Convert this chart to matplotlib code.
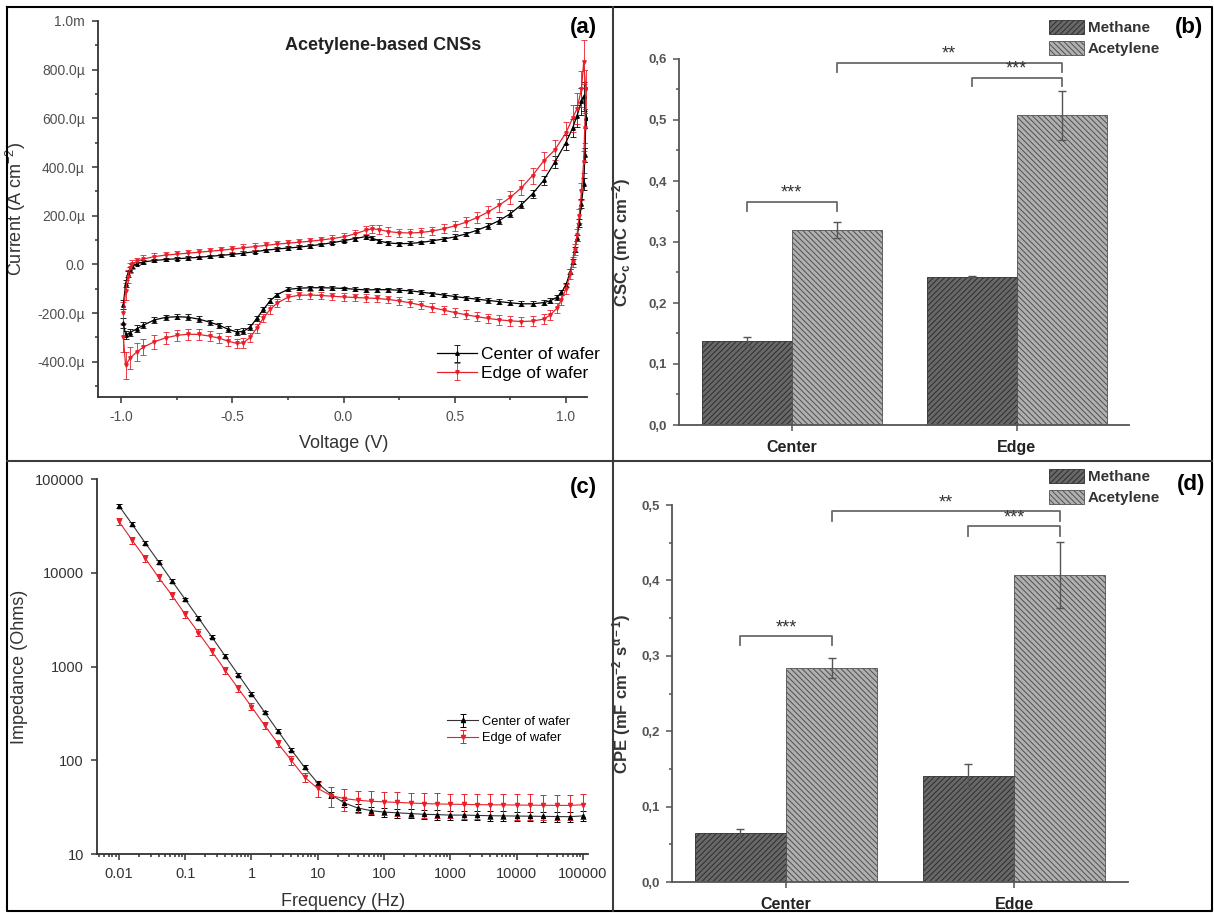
#Four panel figure: CV curves, CSC bars, impedance spectra and CPE bars
import numpy as np
import matplotlib
matplotlib.use('Agg')
import matplotlib.pyplot as plt
from matplotlib.lines import Line2D
from matplotlib.ticker import MultipleLocator, FuncFormatter, NullLocator, FixedLocator

plt.rcParams['font.family'] = ['Liberation Sans', 'DejaVu Sans']
plt.rcParams['mathtext.fontset'] = 'custom'
plt.rcParams['mathtext.rm'] = 'Liberation Sans'
plt.rcParams['mathtext.bf'] = 'Liberation Sans:bold'
plt.rcParams['mathtext.default'] = 'regular'
plt.rcParams['hatch.linewidth'] = 0.7

#(a) cyclic voltammetry, current in uA cm-2
v_fwd = [-0.99, -0.98, -0.97, -0.96, -0.95, -0.93, -0.9, -0.85, -0.8, -0.75,
         -0.7, -0.65, -0.6, -0.55, -0.5, -0.45, -0.4, -0.35, -0.3, -0.25,
         -0.2, -0.15, -0.1, -0.05, 0.0, 0.05, 0.1, 0.13, 0.16, 0.2,
         0.25, 0.3, 0.35, 0.4, 0.45, 0.5, 0.55, 0.6, 0.65, 0.7,
         0.75, 0.8, 0.85, 0.9, 0.95, 1.0, 1.03, 1.05, 1.07, 1.08]
center_fwd = [-165, -80, -40, -20, -8, 3, 10, 16, 20, 23,
              26, 29, 33, 37, 41, 46, 52, 58, 63, 67,
              71, 76, 82, 89, 97, 106, 114, 108, 96, 88,
              85, 86, 90, 97, 104, 113, 125, 140, 158, 180,
              208, 245, 290, 345, 420, 500, 560, 610, 670, 690]
center_fwd_err = [20, 15, 12, 10, 8, 7, 7, 7, 7, 7,
                  7, 7, 7, 7, 7, 7, 7, 7, 7, 7,
                  7, 7, 7, 7, 7, 8, 8, 8, 8, 8,
                  8, 8, 8, 9, 9, 10, 10, 11, 12, 13,
                  14, 15, 17, 20, 24, 30, 38, 45, 55, 60]
edge_fwd = [-200, -110, -50, -15, 0, 12, 22, 32, 38, 42,
            46, 50, 54, 58, 63, 68, 73, 78, 83, 87,
            91, 95, 100, 106, 113, 125, 140, 146, 143, 135,
            130, 129, 131, 137, 146, 158, 173, 192, 215, 243,
            275, 315, 365, 425, 470, 540, 600, 640, 720, 830]
edge_fwd_err = [45, 35, 25, 20, 18, 16, 15, 14, 14, 14,
                14, 14, 14, 14, 14, 14, 14, 14, 14, 14,
                14, 14, 14, 15, 15, 16, 17, 17, 17, 17,
                17, 17, 18, 18, 19, 20, 21, 22, 24, 26,
                28, 30, 33, 36, 40, 45, 55, 65, 75, 90]
v_rev = [1.09, 1.085, 1.08, 1.07, 1.06, 1.05, 1.04, 1.03, 1.02, 1.0,
         0.98, 0.96, 0.93, 0.9, 0.85, 0.8, 0.75, 0.7, 0.65, 0.6,
         0.55, 0.5, 0.45, 0.4, 0.35, 0.3, 0.25, 0.2, 0.15, 0.1,
         0.05, 0.0, -0.05, -0.1, -0.15, -0.2, -0.25, -0.3, -0.33, -0.36,
         -0.39, -0.42, -0.45, -0.48, -0.52, -0.56, -0.6, -0.65, -0.7, -0.75,
         -0.8, -0.85, -0.9, -0.93, -0.96, -0.98, -0.99]
center_rev = [600, 450, 330, 250, 170, 110, 60, 10, -30, -85,
              -115, -135, -150, -157, -162, -162, -158, -153, -148, -143,
              -138, -132, -126, -120, -114, -109, -106, -104, -104, -105,
              -102, -99, -97, -96, -96, -98, -103, -125, -150, -185,
              -222, -258, -275, -278, -266, -250, -238, -225, -217, -215,
              -218, -228, -250, -265, -280, -290, -240]
center_rev_err = [40, 30, 25, 20, 15, 12, 10, 10, 10, 10,
                  10, 10, 10, 10, 10, 10, 10, 10, 9, 9,
                  9, 9, 9, 8, 8, 8, 8, 8, 8, 8,
                  8, 8, 8, 8, 8, 8, 8, 9, 10, 10,
                  11, 12, 13, 13, 12, 11, 11, 11, 11, 11,
                  11, 12, 13, 14, 16, 18, 20]
edge_rev = [720, 560, 420, 300, 200, 120, 60, 10, -40, -100,
            -145, -180, -208, -225, -233, -235, -232, -228, -222, -215,
            -207, -198, -188, -178, -168, -158, -150, -144, -140, -138,
            -136, -134, -131, -128, -126, -127, -135, -160, -185, -220,
            -262, -300, -322, -325, -315, -303, -295, -288, -287, -292,
            -302, -318, -340, -360, -385, -415, -300]
edge_rev_err = [80, 60, 45, 35, 28, 24, 22, 20, 20, 20,
                20, 20, 20, 20, 20, 20, 20, 20, 20, 19,
                19, 19, 18, 18, 17, 17, 16, 16, 15, 15,
                15, 15, 15, 15, 15, 15, 15, 16, 17, 18,
                19, 20, 20, 20, 20, 20, 20, 21, 22, 24,
                26, 29, 33, 38, 45, 55, 60]

#(c) impedance spectra
freq = [0.01, 0.0158, 0.0251, 0.0398, 0.0631, 0.1, 0.158, 0.251, 0.398, 0.631,
        1, 1.58, 2.51, 3.98, 6.31, 10, 15.8, 25.1, 39.8, 63.1,
        100, 158, 251, 398, 631, 1000, 1585, 2512, 3981, 6310,
        10000, 15849, 25119, 39811, 63096, 100000]
z_center = [52000, 33000, 20700, 13100, 8200, 5200, 3300, 2080, 1300, 820,
            515, 325, 205, 130, 84, 57, 43, 35, 31, 29,
            28, 27.5, 27, 26.5, 26.3, 26, 26, 25.8, 25.6, 25.5,
            25.4, 25.3, 25.2, 25.1, 25, 25.5]
z_center_err = [2500, 1500, 900, 600, 350, 220, 140, 90, 55, 35,
                22, 14, 9, 6, 4, 3, 3, 3, 3, 3,
                3, 3, 3, 3, 3, 3, 3, 3, 3, 3,
                3, 3, 3, 3, 3, 3]
z_edge = [35300, 22300, 14200, 8900, 5750, 3600, 2300, 1460, 917, 584,
          372, 235, 151, 100, 66, 50, 42, 39, 37.5, 36.5,
          36, 35.5, 35, 34.5, 34.2, 34, 33.8, 33.6, 33.5, 33.4,
          33.3, 33.2, 33.1, 33, 33, 33.5]
z_edge_err = [3000, 2000, 1300, 800, 500, 320, 200, 130, 80, 50,
              32, 20, 14, 10, 8, 9, 10, 10, 10, 10,
              10, 10, 10, 10, 10, 10, 10, 10, 10, 10,
              10, 10, 10, 10, 10, 10]

#(b) and (d) bar charts
groups = ['Center', 'Edge']
csc_methane = [0.137, 0.243]
csc_methane_err = [0.008, 0.001]
csc_acetylene = [0.320, 0.508]
csc_acetylene_err = [0.013, 0.040]
cpe_methane = [0.065, 0.141]
cpe_methane_err = [0.005, 0.016]
cpe_acetylene = [0.284, 0.407]
cpe_acetylene_err = [0.013, 0.044]
#significance brackets: x1, x2, leg bottom, top, stars
csc_brackets = [(0.8, 1.2, 0.350, 0.366, '***'), (1.2, 2.2, 0.579, 0.594, '**'), (1.8, 2.2, 0.555, 0.569, '***')]
cpe_brackets = [(0.8, 1.2, 0.314, 0.326, '***'), (1.2, 2.2, 0.479, 0.492, '**'), (1.8, 2.2, 0.459, 0.472, '***')]

W, H = 1214, 913
fig = plt.figure(figsize=(W/100, H/100), dpi=100)

def add_ax(left, right, top, bottom):
    return fig.add_axes([left/W, 1-bottom/H, (right-left)/W, (bottom-top)/H])

def fig_line(x, y, color, lw):
    fig.add_artist(Line2D(np.array(x)/W, 1-np.array(y)/H, color=color, lw=lw, transform=fig.transFigure))

#table frame
fig_line([7, 1212, 1212, 7, 7], [7, 7, 911, 911, 7], 'black', 1.5)
fig_line([7, 1212], [461.5, 461.5], '#3c3c3c', 1.5)
fig_line([613, 613], [7, 911], '#3c3c3c', 1.5)

def clean(ax, col):
    ax.spines['top'].set_visible(False)
    ax.spines['right'].set_visible(False)
    for s in ['left', 'bottom']:
        ax.spines[s].set_color(col)
        ax.spines[s].set_linewidth(1.3)
    ax.tick_params(which='both', direction='out', color=col, width=1.1)
    ax.tick_params(which='major', length=4.5)
    ax.tick_params(which='minor', length=2.5)

# ---- (a)
ax = add_ax(98, 587, 21, 397)
clean(ax, '#333333')
V = v_fwd + v_rev
ax.errorbar(V, np.array(center_fwd + center_rev)*1e-6, yerr=np.array(center_fwd_err + center_rev_err)*1e-6,
            color='black', marker='^', ms=2.5, lw=0.9, elinewidth=0.6, capsize=2, capthick=0.6,
            label='Center of wafer')
ax.errorbar(V, np.array(edge_fwd + edge_rev)*1e-6, yerr=np.array(edge_fwd_err + edge_rev_err)*1e-6,
            color='#e8202a', marker='v', ms=2.5, lw=0.9, elinewidth=0.6, capsize=2, capthick=0.6,
            label='Edge of wafer')
ax.set_xlim(-1.104, 1.095)
ax.set_ylim(-545e-6, 1e-3)
ax.xaxis.set_major_locator(MultipleLocator(0.5))
ax.xaxis.set_minor_locator(MultipleLocator(0.25))
ax.yaxis.set_major_locator(FixedLocator([-400e-6, -200e-6, 0, 200e-6, 400e-6, 600e-6, 800e-6, 1e-3]))
ax.yaxis.set_minor_locator(MultipleLocator(100e-6))

def cur_fmt(v, pos):
    if abs(v) < 1e-9:
        return '0.0'
    if abs(v - 1e-3) < 1e-9:
        return '1.0m'
    return '{:.1f}µ'.format(v*1e6)
ax.yaxis.set_major_formatter(FuncFormatter(cur_fmt))
ax.xaxis.set_major_formatter(FuncFormatter(lambda v, p: '{:.1f}'.format(v)))
ax.tick_params(labelsize=10, labelcolor='#505050', pad=5)
ax.set_xlabel('Voltage (V)', fontsize=13, color='#333333')
ax.set_ylabel('Current (A cm$^{-2}$)', fontsize=13, color='#333333')
ax.xaxis.set_label_coords((344-98)/489, -(435-397)/376)
ax.yaxis.set_label_coords((28-98)/489, 0.5)
ax.text(383/W, 1-45/H, 'Acetylene-based CNSs', transform=fig.transFigure, fontsize=13,
        fontweight='bold', color='#222222', ha='center', va='center')
ax.legend(loc='center left', bbox_to_anchor=(437/W, 1-364/H), bbox_transform=fig.transFigure,
          frameon=False, fontsize=12.5, handlelength=2.3, handletextpad=0.25, labelspacing=0.2,
          borderpad=0, borderaxespad=0)

# ---- (c)
ax = add_ax(97, 588, 479, 854)
clean(ax, '#333333')
ax.errorbar(freq, z_center, yerr=z_center_err, color='#333333', marker='^', ms=3, lw=0.8,
            elinewidth=0.7, capsize=2.5, capthick=0.7, mfc='black', mec='black', ecolor='black',
            label='Center of wafer')
ax.errorbar(freq, z_edge, yerr=z_edge_err, color='#e8202a', marker='v', ms=3, lw=0.8,
            elinewidth=0.7, capsize=2.5, capthick=0.7, label='Edge of wafer')
ax.set_xscale('log')
ax.set_yscale('log')
ax.set_xlim(10**-2.33, 10**5.075)
ax.set_ylim(10, 1e5)
xt = [0.01, 0.1, 1, 10, 100, 1000, 10000, 100000]
ax.set_xticks(xt, ['0.01', '0.1', '1', '10', '100', '1000', '10000', '100000'])
yt = [10, 100, 1000, 10000, 100000]
ax.set_yticks(yt, ['10', '100', '1000', '10000', '100000'])
ax.yaxis.set_minor_locator(NullLocator())
ax.tick_params(labelsize=10.5, labelcolor='#333333', pad=5)
ax.set_xlabel('Frequency (Hz)', fontsize=13, color='#333333')
ax.set_ylabel('Impedance (Ohms)', fontsize=13, color='#333333')
ax.xaxis.set_label_coords((343-97)/491, -(893-854)/375)
ax.yaxis.set_label_coords((28-97)/491, 0.5)
ax.legend(loc='center left', bbox_to_anchor=(447/W, 1-730/H), bbox_transform=fig.transFigure,
          frameon=False, fontsize=9.3, handlelength=2.4, handletextpad=0.3, labelspacing=0.35,
          borderpad=0, borderaxespad=0)

# ---- (b) and (d)
def bars(ax, meth, meth_err, acet, acet_err, brackets, ylab, ytop, leg_y, lab_x):
    clean(ax, '#555555')
    x = np.arange(1, len(groups)+1)
    w = 0.4
    b1 = ax.bar(x - w/2, meth, w, color='#686868', edgecolor='#2e2e2e', hatch='//////', lw=0.6,
                label='Methane')
    b2 = ax.bar(x + w/2, acet, w, color='#b0b0b0', edgecolor='#505050', hatch='\\\\\\\\\\\\', lw=0.6,
                label='Acetylene')
    ax.errorbar(x - w/2, meth, yerr=meth_err, fmt='none', ecolor='#555555', elinewidth=1, capsize=3)
    ax.errorbar(x + w/2, acet, yerr=acet_err, fmt='none', ecolor='#555555', elinewidth=1, capsize=3)
    for x1, x2, y0, y1, txt in brackets:
        ax.plot([x1, x1, x2, x2], [y0, y1, y1, y0], color='#6a6a6a', lw=1.3, clip_on=False)
        ax.text((x1+x2)/2, y1, txt, ha='center', va='bottom', fontsize=13, color='#333333')
    ax.set_xlim(0.5, 2.5)
    ax.set_ylim(0, ytop)
    ax.set_xticks(x, groups)
    ax.yaxis.set_major_locator(MultipleLocator(0.1))
    ax.yaxis.set_minor_locator(MultipleLocator(0.05))
    ax.yaxis.set_major_formatter(FuncFormatter(lambda v, p: '{:.1f}'.format(v).replace('.', ',')))
    ax.tick_params(axis='y', labelsize=9.5, labelcolor='#555555', pad=4)
    ax.tick_params(axis='x', labelsize=11.5, labelcolor='#222222', pad=6)
    for t in ax.get_xticklabels() + ax.get_yticklabels():
        t.set_fontweight('bold')
    ax.set_ylabel(ylab, fontsize=12, fontweight='bold', color='#333333')
    ax.yaxis.set_label_coords(lab_x, 0.5)
    leg = ax.legend(handles=[b1, b2], loc='center left', bbox_to_anchor=(1049/W, 1-leg_y/H),
                    bbox_transform=fig.transFigure, frameon=False, handlelength=2.3, handleheight=1.1,
                    handletextpad=0.25, labelspacing=0.35, borderpad=0, borderaxespad=0,
                    prop={'weight': 'bold', 'size': 11})
    for t in leg.get_texts():
        t.set_color('#333333')

ax = add_ax(679, 1129, 59, 425)
bars(ax, csc_methane, csc_methane_err, csc_acetylene, csc_acetylene_err, csc_brackets,
     r'$\mathbf{CSC_c}$ $\mathbf{(mC\ cm^{-2})}$', 0.6, 38, (633-679)/450)
ax = add_ax(672, 1128, 505, 882)
bars(ax, cpe_methane, cpe_methane_err, cpe_acetylene, cpe_acetylene_err, cpe_brackets,
     r'$\mathbf{CPE\ (mF\ cm^{-2}\ s^{\alpha-1})}$', 0.5, 487, (633-672)/456)

#panel letters
for lx, ly, lab in [(583, 27, '(a)'), (1189, 27, '(b)'), (583, 487, '(c)'), (1191, 484, '(d)')]:
    fig.text(lx/W, 1-ly/H, lab, fontsize=16, fontweight='bold', ha='center', va='center')

fig.savefig('out.png', dpi=100)
